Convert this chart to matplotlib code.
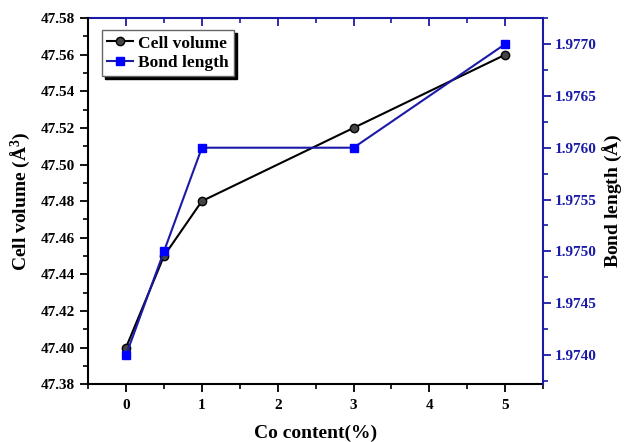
import numpy as np
import matplotlib.pyplot as plt
from matplotlib.ticker import MultipleLocator

plt.rcParams['font.family'] = 'Liberation Serif'
plt.rcParams['font.weight'] = 'bold'
plt.rcParams['axes.labelweight'] = 'bold'
plt.rcParams['mathtext.fontset'] = 'custom'
plt.rcParams['mathtext.rm'] = 'Liberation Serif:bold'

co = [0, 0.5, 1, 3, 5]
volume = [47.40, 47.45, 47.48, 47.52, 47.56]
bond = [1.9740, 1.9750, 1.9760, 1.9760, 1.9770]

fig, ax = plt.subplots(figsize=(6.25, 4.42), dpi=100)
fig.subplots_adjust(left=0.141, right=0.869, top=0.959, bottom=0.131)

blue = '#1a1aa8'
l1, = ax.plot(co, volume, '-o', color='black', mfc='#444444', mec='black',
              ms=6, lw=1.5, label='Cell volume')
ax2 = ax.twinx()
l2, = ax2.plot(co, bond, '-s', color=blue, mfc='blue', mec='blue',
               ms=5.5, lw=1.5, label='Bond length')

ax.set_xlim(-0.5, 5.5)
ax.set_ylim(47.38, 47.58)
ax2.set_ylim(1.97372, 1.97725)

ax.xaxis.set_major_locator(MultipleLocator(1))
ax.xaxis.set_minor_locator(MultipleLocator(0.5))
ax.yaxis.set_major_locator(MultipleLocator(0.02))
ax.yaxis.set_minor_locator(MultipleLocator(0.01))
ax2.yaxis.set_major_locator(MultipleLocator(0.0005))
ax2.yaxis.set_minor_locator(MultipleLocator(0.00025))
ax.yaxis.set_major_formatter(plt.FormatStrFormatter('%.2f'))
ax2.yaxis.set_major_formatter(plt.FormatStrFormatter('%.4f'))

ax.tick_params(which='major', direction='out', length=6, width=1.3, labelsize=11)
ax.tick_params(which='minor', direction='out', length=3.5, width=1.2)
ax.tick_params(axis='x', pad=5)
ax2.tick_params(which='major', direction='out', length=6, width=1.3,
                colors=blue, labelsize=11, pad=2.5)
ax2.tick_params(which='minor', direction='out', length=3.5, width=1.2, colors=blue)

top = ax.secondary_xaxis('top')
top.xaxis.set_major_locator(MultipleLocator(1))
top.xaxis.set_minor_locator(MultipleLocator(0.5))
top.tick_params(which='major', direction='in', length=6, width=1.3, colors=blue,
                labeltop=False)
top.tick_params(which='minor', direction='in', length=3.5, width=1.2, colors=blue)
top.spines['top'].set_color(blue)
top.spines['top'].set_linewidth(1.5)

for s in ['left', 'bottom']:
    ax.spines[s].set_linewidth(1.5)
ax.spines['right'].set_visible(False)
ax.spines['top'].set_visible(False)
ax2.spines['right'].set_color(blue)
ax2.spines['right'].set_linewidth(1.5)
ax2.spines['top'].set_visible(False)
ax2.spines['left'].set_visible(False)
ax2.spines['bottom'].set_visible(False)

ax.set_xlabel('Co content(%)', fontsize=14, labelpad=9)
ax.set_ylabel(r'Cell volume ($\mathrm{\AA^3}$)', fontsize=14, labelpad=6)
ax2.set_ylabel(r'Bond length ($\mathrm{\AA}$)', fontsize=14, color='black',
               labelpad=3)

leg = ax.legend([l1, l2], ['Cell volume', 'Bond length'], loc='upper left',
                bbox_to_anchor=(0.03, 0.967), borderaxespad=0, fontsize=12.5,
                fancybox=False, shadow={'color': 'black', 'alpha': 1},
                framealpha=1, edgecolor='#666666', handlelength=1.5,
                borderpad=0.3, labelspacing=0.2, handletextpad=0.3)

fig.savefig('out.png', dpi=100)
